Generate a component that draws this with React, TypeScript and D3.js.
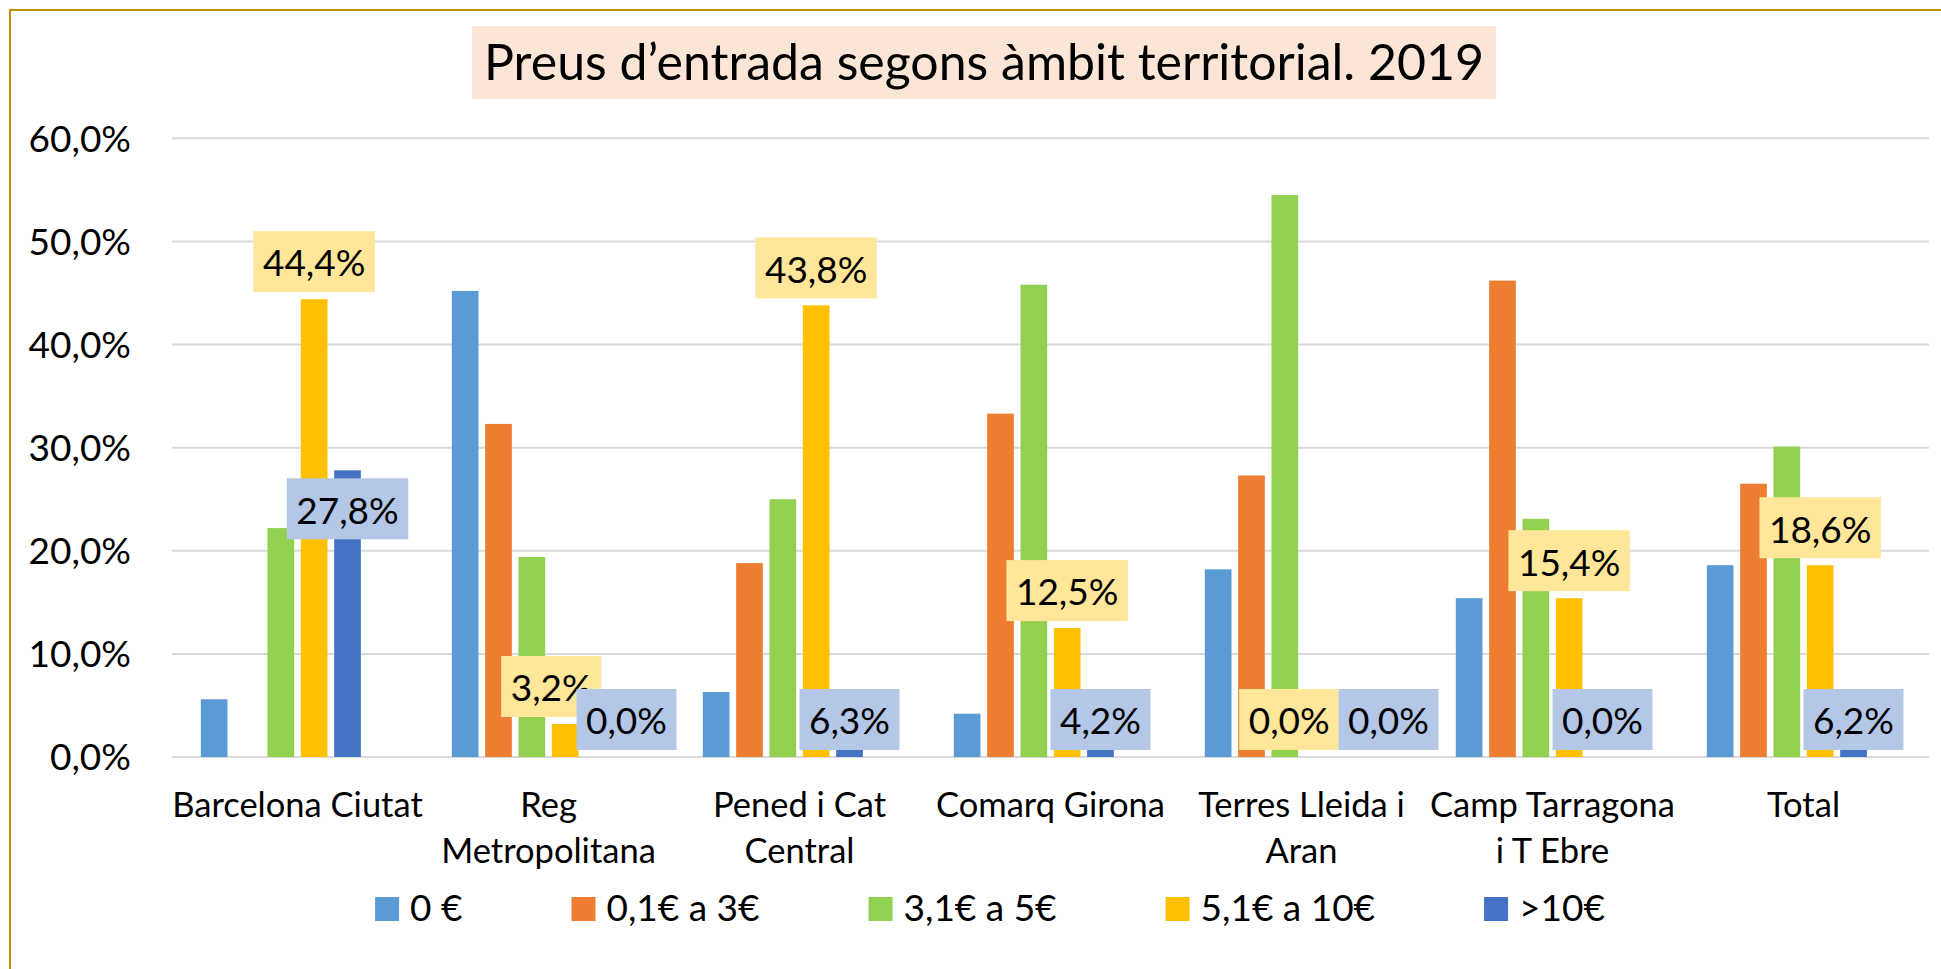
import React, { useEffect, useRef } from "react";
import * as d3 from "d3";

const categories = [
    "Barcelona Ciutat",
    "Reg Metropolitana",
    "Pened i Cat Central",
    "Comarq Girona",
    "Terres Lleida i Aran",
    "Camp Tarragona i T Ebre",
    "Total",
];

// tick labels as they wrap on the axis
const categoryLines = [
    ["Barcelona Ciutat"],
    ["Reg", "Metropolitana"],
    ["Pened i Cat", "Central"],
    ["Comarq Girona"],
    ["Terres Lleida i", "Aran"],
    ["Camp Tarragona", "i T Ebre"],
    ["Total"],
];

const seriesNames = ["0 €", "0,1€ a 3€", "3,1€ a 5€", "5,1€ a 10€", ">10€"];
const seriesColors = ["#5B9BD5", "#ED7D31", "#92D050", "#FFC000", "#4472C4"];

const free = [5.6, 45.2, 6.3, 4.2, 18.2, 15.4, 18.6];
const upTo3 = [0, 32.3, 18.8, 33.3, 27.3, 46.2, 26.5];
const upTo5 = [22.2, 19.4, 25.0, 45.8, 54.5, 23.1, 30.1];
const upTo10 = [44.4, 3.2, 43.8, 12.5, 0.0, 15.4, 18.6];
const over10 = [27.8, 0.0, 6.3, 4.2, 0.0, 0.0, 6.2];

const yTicks = [0, 10, 20, 30, 40, 50, 60];

// labels that were dragged sideways in the original so they don't sit on each other
const upTo10LabelNudge = [0, -14, 0, 0, -29, 0, 0];
const over10LabelNudge = [0, 28, 0, 0, 37, 0, 0];

const FONT = "Lato, 'Open Sans', sans-serif";

const fmt = (v: number) => v.toFixed(1).replace(".", ",") + "%";

const App: React.FC = () => {
    const svgRef = useRef<SVGSVGElement | null>(null);

    useEffect(() => {
        if (!svgRef.current) return;
        document.body.style.margin = "0";
        document.body.style.overflow = "hidden";

        const width = 1941;
        const height = 969;
        const svg = d3.select(svgRef.current);
        svg.selectAll("*").remove();
        svg.attr("width", width).attr("height", height);

        const series = [free, upTo3, upTo5, upTo10, over10];

        const plotLeft = 172;
        const plotRight = 1929;

        const x0 = d3.scaleBand<string>().domain(categories).range([plotLeft, plotRight]);
        // excel keeps room for 6 columns per group, last one empty
        const groupWidth = x0.bandwidth() * 0.797;
        const groupOffset = (x0.bandwidth() - groupWidth) / 2;
        const x1 = d3
            .scaleBand<string>()
            .domain(["0", "1", "2", "3", "4", "5"])
            .range([0, groupWidth]);
        const barW = x1.step() * 0.8;
        const barX = (ci: number, si: number) =>
            (x0(categories[ci]) as number) + groupOffset + (x1(String(si)) as number) + (x1.step() - barW) / 2;

        const y = d3.scaleLinear().domain([0, 60]).range([757, 138.3]);

        // chart border (only top/left visible)
        svg.append("rect")
            .attr("x", 10)
            .attr("y", 10)
            .attr("width", width)
            .attr("height", height)
            .attr("fill", "#fff")
            .attr("stroke", "#BF9000")
            .attr("stroke-width", 2);

        // title
        const titleG = svg.append("g");
        const titleBg = titleG.append("rect").attr("fill", "#FBE5D6");
        const title = titleG
            .append("text")
            .attr("x", 984)
            .attr("y", 80)
            .attr("text-anchor", "middle")
            .attr("font-family", FONT)
            .attr("font-size", 50)
            .attr("fill", "#000")
            .text("Preus d’entrada segons àmbit territorial. 2019");
        const tw = (title.node() as SVGTextElement).getComputedTextLength();
        titleBg
            .attr("x", 984 - tw / 2 - 12)
            .attr("y", 26)
            .attr("width", tw + 24)
            .attr("height", 73);

        // gridlines
        svg.append("g")
            .selectAll("line")
            .data(yTicks)
            .join("line")
            .attr("x1", plotLeft)
            .attr("x2", plotRight)
            .attr("y1", (d) => y(d))
            .attr("y2", (d) => y(d))
            .attr("stroke", "#D9D9D9")
            .attr("stroke-width", 2);

        // y tick labels
        svg.append("g")
            .selectAll("text")
            .data(yTicks)
            .join("text")
            .attr("x", 131)
            .attr("y", (d) => y(d))
            .attr("dy", "0.36em")
            .attr("text-anchor", "end")
            .attr("font-family", FONT)
            .attr("font-size", 37)
            .attr("fill", "#000")
            .text((d) => fmt(d));

        // bars
        const barsG = svg.append("g");
        series.forEach((vals, si) => {
            barsG
                .append("g")
                .selectAll("rect")
                .data(vals)
                .join("rect")
                .attr("x", (_d, ci) => barX(ci, si))
                .attr("y", (d) => y(d))
                .attr("width", barW)
                .attr("height", (d) => y(0) - y(d))
                .attr("fill", seriesColors[si]);
        });

        // data labels
        const boxH = 61;
        const labelG = svg.append("g");
        const addLabel = (cx: number, top: number, txt: string, bg: string) => {
            const g = labelG.append("g");
            const r = g.append("rect").attr("fill", bg);
            const t = g
                .append("text")
                .attr("x", cx)
                .attr("y", top + boxH / 2 + 1.5)
                .attr("dy", "0.36em")
                .attr("text-anchor", "middle")
                .attr("font-family", FONT)
                .attr("font-size", 37)
                .attr("fill", "#000")
                .text(txt);
            const w = (t.node() as SVGTextElement).getComputedTextLength() + 19;
            r.attr("x", cx - w / 2).attr("y", top).attr("width", w).attr("height", boxH);
        };

        upTo10.forEach((v, ci) => {
            const cx = barX(ci, 3) + barW / 2 + upTo10LabelNudge[ci];
            addLabel(cx, y(v) - 7 - boxH, fmt(v), "#FFE699");
        });
        over10.forEach((v, ci) => {
            const cx = barX(ci, 4) + barW / 2 + over10LabelNudge[ci];
            const top = Math.min(y(v) + 8, y(0) - 7 - boxH);
            addLabel(cx, top, fmt(v), "#B4C7E7");
        });

        // category axis labels
        const catG = svg.append("g");
        categoryLines.forEach((lines, ci) => {
            const cx = (x0(categories[ci]) as number) + x0.bandwidth() / 2;
            const t = catG
                .append("text")
                .attr("text-anchor", "middle")
                .attr("font-family", FONT)
                .attr("font-size", 34.5)
                .attr("fill", "#000");
            lines.forEach((ln, li) => {
                t.append("tspan").attr("x", cx).attr("y", 817 + li * 46).text(ln);
            });
        });

        // legend
        const legendG = svg.append("g");
        const items = seriesNames.map((name, si) => {
            const g = legendG.append("g");
            g.append("rect")
                .attr("width", 24)
                .attr("height", 24)
                .attr("y", 897)
                .attr("fill", seriesColors[si]);
            const t = g
                .append("text")
                .attr("x", 35)
                .attr("y", 921)
                .attr("font-family", FONT)
                .attr("font-size", 37)
                .attr("fill", "#000")
                .text(name);
            return { g, w: 35 + (t.node() as SVGTextElement).getComputedTextLength() };
        });
        const gap = 109;
        const total = d3.sum(items, (d) => d.w) + gap * (items.length - 1);
        let lx = 990 - total / 2;
        items.forEach((it) => {
            it.g.attr("transform", `translate(${lx},0)`);
            lx += it.w + gap;
        });
    }, []);

    return <svg ref={svgRef} style={{ display: "block", background: "#fff" }}></svg>;
};

export default App;
